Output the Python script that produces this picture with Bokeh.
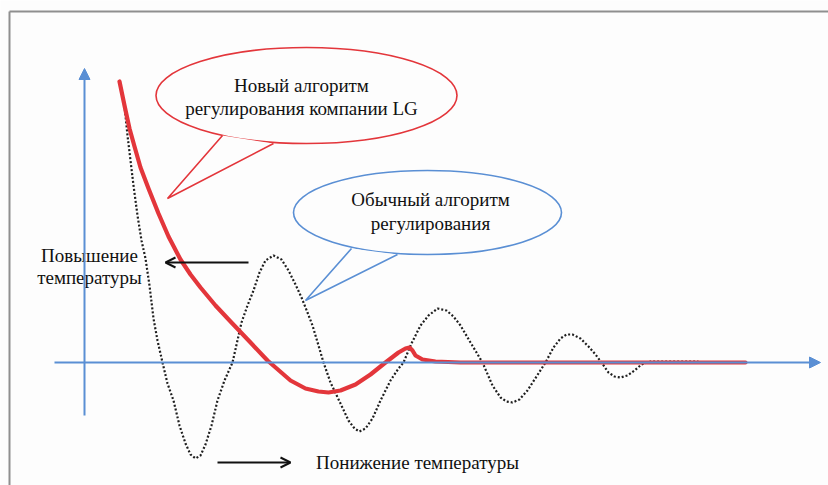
from bokeh.plotting import figure
from bokeh.models import Range1d, Arrow, NormalHead, OpenHead, ColumnDataSource
from bokeh.core.properties import value
from bokeh.embed import file_html
from bokeh.resources import INLINE

# ---- data (time t, temperature deviation T); origin = axes crossing ----
# New LG control algorithm (red)
lg_t = [35, 40, 45, 50, 56, 64, 74, 84, 96, 106, 116, 131, 146, 166, 183,
        206, 221, 234, 244, 256, 271, 286, 301, 314, 321, 325, 328, 331, 338,
        351, 376, 661]
lg_T = [281, 257, 234, 216, 195, 174, 149, 126, 103, 88, 75, 57, 41, 20, 2,
        -18, -26, -29, -30, -28, -22, -12, 0, 10, 14, 15, 12, 7, 3,
        1, 0, 0]

# Conventional control algorithm (dotted)
conv_t = [39, 41, 43, 46, 49, 53, 57, 61, 65, 69, 73, 78, 83, 89, 95, 101,
          106, 111, 116, 121, 127, 133, 140, 148, 157, 163, 169, 175, 181,
          189, 197, 204, 211, 217, 223, 228, 234, 239, 246, 256, 264, 270,
          275, 281, 288, 296, 306, 314, 319, 327, 336, 344, 353, 362, 369,
          376, 386, 398, 408, 416, 422, 428, 435, 443, 452, 461, 469, 476,
          482, 488, 496, 504, 511, 517, 524, 530, 536, 543, 550, 557, 566,
          614]
conv_T = [265, 247, 227, 202, 177, 147, 122, 104, 77, 44, 22, 0, -21, -38,
          -63, -81, -92, -96, -93, -82, -63, -38, -18, 0, 40, 57, 72, 90, 102,
          107, 103, 92, 78, 65, 50, 37, 17, 0, -20, -41, -58, -66, -69, -66,
          -56, -38, -18, -6, 0, 19, 37, 47, 54, 52, 46, 37, 20, 0, -23, -35,
          -39, -40, -37, -28, -14, 0, 15, 24, 28, 28, 24, 16, 8, 0, -10, -14,
          -15, -13, -8, -2, 1, 1]

# annotation texts
bubble_new = ["Новый алгоритм", "регулирования компании LG"]
bubble_old = ["Обычный алгоритм", "регулирования"]
label_up = ["Повышение", "температуры"]
label_down = ["Понижение температуры"]

RED = "#e3363b"
BLUE = "#5a8fd4"
FONT = value("Liberation Serif")

W, H = 828, 485
p = figure(width=W, height=H, output_backend="svg", toolbar_location=None,
           x_range=Range1d(-84, W - 84), y_range=Range1d(362 - H, 362),
           min_border=0, x_axis_location=None, y_axis_location=None,
           background_fill_color="#fdfdfd", border_fill_color="#fdfdfd")
p.outline_line_color = None
p.xgrid.visible = False
p.ygrid.visible = False

# frame border (left and top)
p.segment(x0=[-75, -75], y0=[351, 351], x1=[-75, 760], y1=[-130, 351],
          line_color="#8f8f8f", line_width=2)

# axes
p.add_layout(Arrow(end=NormalHead(size=11, fill_color=BLUE, line_color=BLUE),
                   x_start=-30, y_start=0, x_end=736, y_end=0,
                   line_color=BLUE, line_width=2))
p.add_layout(Arrow(end=NormalHead(size=11, fill_color=BLUE, line_color=BLUE),
                   x_start=0, y_start=-53, x_end=0, y_end=294,
                   line_color=BLUE, line_width=2))

# curves
p.line(conv_t, conv_T, line_color="#1e1e1e", line_width=2.2, line_dash="2 2")
p.line(lg_t, lg_T, line_color=RED, line_width=4.2, line_join="round",
       line_cap="round")

# speech bubbles
p.ellipse(x=[222], y=[267], width=[301], height=[96], fill_color="#fdfdfd",
          line_color=RED, line_width=1.6)
p.patch([138, 83, 189], [227, 164, 219], fill_color="#fdfdfd",
        line_color=None)
p.line([138, 83, 189], [227, 164, 219], line_color=RED, line_width=1.6)

p.ellipse(x=[343], y=[150], width=[268], height=[84], fill_color="#fdfdfd",
          line_color=BLUE, line_width=1.6)
p.patch([267, 221, 313], [114, 62, 108], fill_color="#fdfdfd",
        line_color=None)
p.line([267, 221, 313], [114, 62, 108], line_color=BLUE, line_width=1.6)

# texts
txt = ColumnDataSource(dict(
    x=[217, 217, 346, 346, 5, 5, 333],
    y=[277, 254, 163, 139, 107, 85, -100],
    t=bubble_new + bubble_old + label_up + label_down,
))
p.text(x="x", y="y", text="t", source=txt, text_font=FONT,
       text_font_size="19px", text_align="center", text_baseline="middle",
       text_color="#111111")

# black arrows
p.add_layout(Arrow(end=OpenHead(size=10, line_width=2, line_color="#111111"),
                   x_start=164, y_start=100, x_end=81, y_end=100,
                   line_color="#111111", line_width=2))
p.add_layout(Arrow(end=OpenHead(size=10, line_width=2, line_color="#111111"),
                   x_start=133, y_start=-100, x_end=206, y_end=-100,
                   line_color="#111111", line_width=2))

open("out.html", "w").write(file_html(p, INLINE))
